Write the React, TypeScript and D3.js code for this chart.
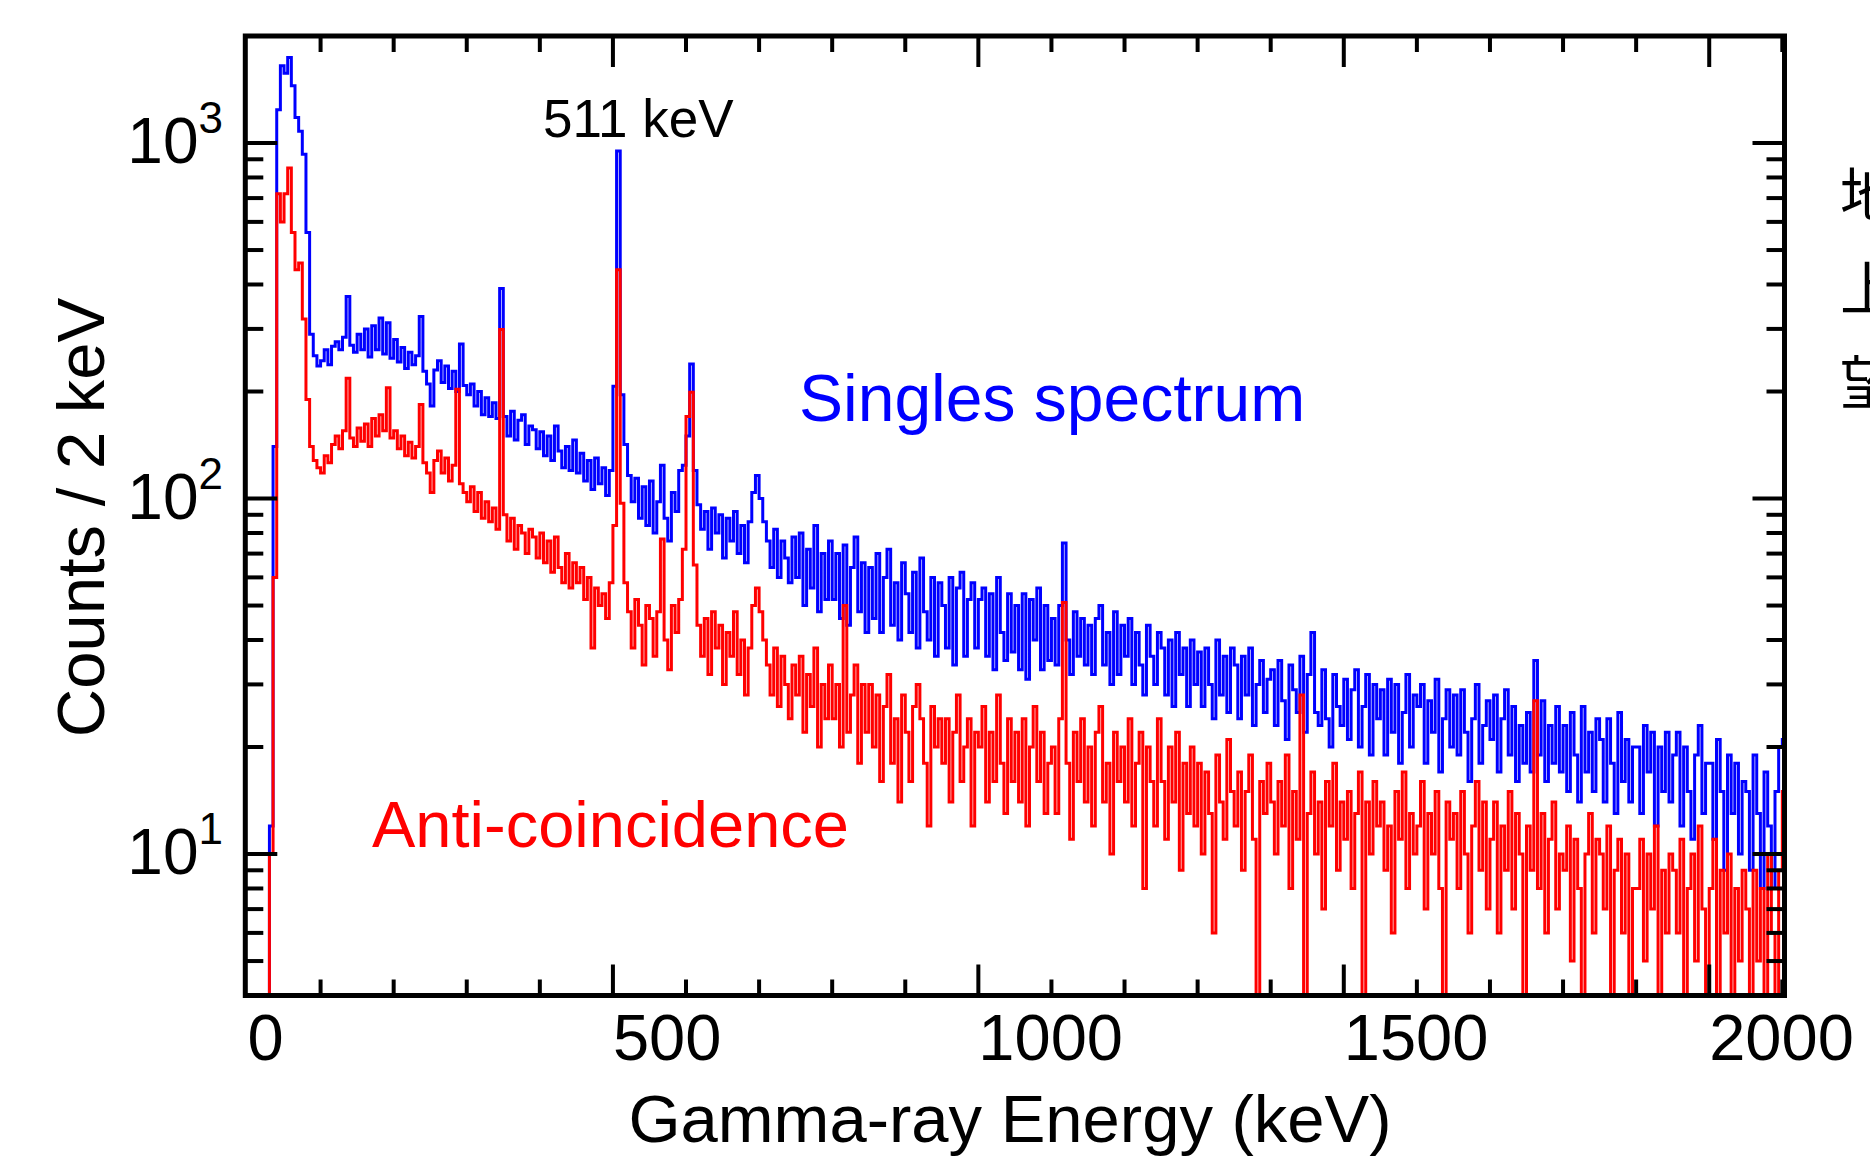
import React, { useRef, useEffect } from "react";
import * as d3 from "d3";

// bins are 5 keV wide, starting at 0 keV
const binWidth = 5;

const singles = [
  0, 0, 0, 0, 0, 0, 12, 140, 1240, 1650,
  1570, 1740, 1450, 1180, 1080, 930, 560, 290, 252, 236,
  244, 262, 238, 268, 276, 262, 284, 370, 270, 258,
  290, 262, 300, 250, 306, 262, 322, 255, 312, 248,
  280, 242, 266, 232, 258, 238, 252, 325, 228, 210,
  182, 230, 244, 212, 236, 204, 228, 200, 272, 208,
  196, 210, 182, 200, 172, 192, 170, 186, 168, 390,
  170, 150, 176, 146, 166, 172, 142, 160, 156, 138,
  154, 132, 150, 128, 160, 136, 122, 140, 120, 146,
  118, 134, 112, 128, 106, 130, 110, 122, 102, 120,
  207, 950, 196, 142, 116, 98, 114, 88, 108, 84,
  112, 80, 98, 124, 88, 76, 104, 92, 120, 124,
  150, 239, 120, 96, 82, 92, 72, 94, 80, 90,
  68, 88, 76, 92, 70, 84, 66, 86, 104, 116,
  100, 86, 76, 64, 82, 60, 76, 68, 58, 78,
  60, 80, 50, 72, 56, 84, 48, 70, 52, 76,
  52, 70, 46, 74, 44, 64, 78, 48, 66, 42,
  64, 46, 70, 42, 60, 72, 44, 58, 40, 66,
  54, 42, 62, 38, 68, 48, 40, 60, 36, 58,
  50, 38, 60, 34, 56, 62, 36, 52, 58, 38,
  52, 56, 36, 54, 33, 60, 42, 35, 54, 37,
  50, 33, 54, 31, 52, 40, 56, 33, 50, 35,
  46, 34, 50, 75, 40, 32, 48, 36, 46, 34,
  44, 32, 46, 50, 34, 42, 30, 48, 32, 44,
  36, 46, 30, 42, 34, 28, 44, 36, 30, 42,
  38, 28, 40, 26, 42, 32, 38, 26, 40, 30,
  37, 26, 38, 30, 24, 40, 28, 36, 25, 38,
  34, 24, 36, 28, 38, 23, 30, 35, 25, 31,
  33, 23, 35, 27, 21, 34, 29, 25, 36, 22,
  32, 42, 25, 23, 33, 24, 20, 32, 26, 23,
  31, 21, 29, 33, 20, 26, 32, 19, 30, 24,
  29, 19, 31, 22, 30, 18, 25, 32, 20, 28,
  26, 30, 18, 27, 22, 31, 17, 24, 29, 20,
  28, 19, 29, 22, 16, 24, 30, 18, 23, 27,
  21, 28, 17, 24, 29, 19, 26, 16, 23, 18,
  25, 17, 35, 19, 27, 16, 23, 18, 26, 17,
  23, 15, 25, 19, 14, 26, 17, 22, 15, 24,
  21, 14, 24, 18, 13, 25, 16, 21, 14, 20,
  20, 13, 23, 17, 22, 12, 20, 15, 22, 14,
  19, 22, 12, 20, 15, 11, 19, 23, 13, 18,
  18, 11, 21, 15, 9, 19, 13, 18, 10, 16,
  15, 9, 19, 13, 8, 17, 12, 8, 15, 20,
  21,
];

const antiCoincidence = [
  0, 0, 0, 0, 0, 0, 10, 60, 720, 600,
  720, 850, 560, 440, 460, 320, 190, 140, 128, 122,
  118, 132, 126, 142, 150, 138, 155, 218, 148, 140,
  158, 145, 162, 140, 168, 150, 172, 155, 205, 148,
  155, 138, 150, 132, 144, 130, 140, 184, 126, 118,
  104, 128, 136, 118, 130, 112, 124, 203, 110, 104,
  98, 108, 92, 104, 88, 98, 86, 94, 82, 299,
  90, 76, 88, 72, 84, 80, 70, 82, 78, 68,
  80, 66, 76, 62, 78, 64, 58, 70, 56, 66,
  58, 64, 52, 60, 38, 56, 50, 54, 46, 58,
  84, 440, 97, 58, 48, 38, 52, 44, 34, 50,
  46, 36, 48, 77, 40, 33, 50, 42, 52, 72,
  170, 199, 65, 44, 36, 46, 32, 48, 38, 44,
  30, 42, 36, 48, 32, 40, 28, 38, 50, 56,
  48, 40, 34, 28, 38, 26, 36, 30, 24, 34,
  28, 36, 22, 32, 26, 38, 20, 30, 24, 34,
  24, 30, 20, 50, 22, 28, 34, 18, 30, 22,
  30, 20, 28, 16, 26, 32, 18, 24, 14, 28,
  22, 16, 26, 30, 24, 18, 12, 26, 20, 24,
  18, 24, 14, 22, 28, 16, 20, 24, 12, 22,
  20, 26, 14, 22, 16, 28, 18, 13, 24, 16,
  22, 14, 24, 12, 20, 26, 16, 22, 13, 18,
  20, 13, 24, 51, 18, 11, 22, 16, 24, 14,
  20, 12, 22, 26, 14, 18, 10, 22, 16, 20,
  14, 24, 12, 18, 22, 8, 20, 16, 12, 24,
  16, 11, 20, 14, 22, 9, 18, 13, 20, 12,
  18, 10, 17, 13, 6, 19, 14, 11, 21, 15,
  12, 17, 9, 15, 19, 11, 2, 16, 13, 18,
  14, 10, 16, 12, 19, 8, 15, 11, 28, 3,
  13, 17, 10, 14, 7, 16, 12, 18, 9, 14,
  11, 15, 8, 13, 17, 3, 14, 10, 16, 12,
  14, 9, 12, 6, 15, 11, 17, 8, 13, 10,
  12, 16, 7, 13, 10, 15, 8, 3, 14, 11,
  13, 8, 15, 10, 6, 12, 16, 9, 14, 7,
  11, 14, 6, 12, 9, 15, 7, 13, 10, 3,
  12, 9, 27, 8, 13, 6, 11, 14, 7, 10,
  9, 12, 5, 11, 8, 3, 10, 13, 6, 11,
  10, 7, 12, 4, 9, 11, 6, 10, 3, 8,
  8, 11, 5, 10, 7, 12, 3, 9, 6, 10,
  9, 6, 11, 2, 8, 10, 5, 12, 7, 3,
  8, 11, 4, 9, 6, 10, 2, 8, 5, 9,
  7, 3, 9, 5, 8, 2, 10, 6, 3, 9,
  15,
];

const xTickLabels = [0, 500, 1000, 1500, 2000];
const yMajorTicks = [10, 100, 1000];
const yExponents = ["1", "2", "3"];
const sideText = ["地", "上", "望"];

const font = "'Liberation Sans', Arial, Helvetica, sans-serif";

const App = () => {
  const svgRef = useRef<SVGSVGElement>(null);

  useEffect(() => {
    const svg = d3.select(svgRef.current);
    svg.selectAll("*").remove();

    const frame = { left: 245.3, right: 1784.5, top: 36, bottom: 995.5 };

    const x = d3.scaleLinear().domain([-3, 2103]).range([frame.left, frame.right]);
    const y = d3
      .scaleLog()
      .domain([4, 2000])
      .range([frame.bottom, frame.top])
      .clamp(true);

    svg
      .append("defs")
      .append("clipPath")
      .attr("id", "plot-clip")
      .append("rect")
      .attr("x", frame.left)
      .attr("y", frame.top)
      .attr("width", frame.right - frame.left)
      .attr("height", frame.bottom - frame.top);

    const toSteps = (vals: number[]) => {
      const pts: [number, number][] = vals.map((v, i) => [i * binWidth, v]);
      pts.push([vals.length * binWidth, vals[vals.length - 1]]);
      return pts;
    };

    const line = d3
      .line<[number, number]>()
      .x((d) => x(d[0]))
      .y((d) => y(Math.max(d[1], 1)))
      .curve(d3.curveStepAfter);

    const plot = svg.append("g").attr("clip-path", "url(#plot-clip)");

    plot
      .append("path")
      .attr("d", line(toSteps(singles)))
      .attr("fill", "none")
      .attr("stroke", "#0000ff")
      .attr("stroke-width", 3);

    plot
      .append("path")
      .attr("d", line(toSteps(antiCoincidence)))
      .attr("fill", "none")
      .attr("stroke", "#ff0000")
      .attr("stroke-width", 3);

    // ticks, all pointing inwards
    const ticks = svg.append("g").attr("stroke", "#000").attr("stroke-width", 4);

    const xTicks = d3.range(100, 2101, 100);
    xTicks.forEach((t) => {
      const len = t % 500 === 0 ? 31 : 16;
      ticks
        .append("line")
        .attr("x1", x(t))
        .attr("x2", x(t))
        .attr("y1", frame.bottom)
        .attr("y2", frame.bottom - len);
      ticks
        .append("line")
        .attr("x1", x(t))
        .attr("x2", x(t))
        .attr("y1", frame.top)
        .attr("y2", frame.top + len);
    });

    const yMinor: number[] = [];
    [1, 10, 100, 1000].forEach((dec) => {
      d3.range(2, 10).forEach((k) => {
        const v = dec * k;
        if (v > 4 && v < 2000) yMinor.push(v);
      });
    });
    const yTicks = [
      ...yMajorTicks.map((v) => ({ v, len: 32 })),
      ...yMinor.map((v) => ({ v, len: 18 })),
    ];
    yTicks.forEach((t) => {
      ticks
        .append("line")
        .attr("x1", frame.left)
        .attr("x2", frame.left + t.len)
        .attr("y1", y(t.v))
        .attr("y2", y(t.v));
      ticks
        .append("line")
        .attr("x1", frame.right)
        .attr("x2", frame.right - t.len)
        .attr("y1", y(t.v))
        .attr("y2", y(t.v));
    });

    svg
      .append("rect")
      .attr("x", frame.left)
      .attr("y", frame.top)
      .attr("width", frame.right - frame.left)
      .attr("height", frame.bottom - frame.top)
      .attr("fill", "none")
      .attr("stroke", "#000")
      .attr("stroke-width", 5);

    // x tick labels start at their tick
    svg
      .append("g")
      .selectAll("text")
      .data(xTickLabels)
      .enter()
      .append("text")
      .attr("x", (d) => x(d))
      .attr("y", 1060)
      .attr("font-size", 65)
      .attr("font-family", font)
      .attr("text-anchor", "start")
      .text((d) => String(d));

    // y tick labels as powers of ten
    const yLab = svg
      .append("g")
      .selectAll("text")
      .data(yMajorTicks)
      .enter()
      .append("text")
      .attr("x", 223)
      .attr("y", (d) => y(d) + 20)
      .attr("font-size", 64)
      .attr("font-family", font)
      .attr("text-anchor", "end");
    yLab.append("tspan").text("10");
    yLab
      .append("tspan")
      .attr("font-size", 44)
      .attr("dy", -30)
      .text((d, i) => yExponents[i]);

    svg
      .append("text")
      .attr("x", 1010)
      .attr("y", 1142)
      .attr("font-size", 67)
      .attr("font-family", font)
      .attr("text-anchor", "middle")
      .text("Gamma-ray Energy (keV)");

    svg
      .append("text")
      .attr("transform", "translate(104,517.5) rotate(-90)")
      .attr("font-size", 67)
      .attr("font-family", font)
      .attr("text-anchor", "middle")
      .text("Counts / 2 keV");

    svg
      .append("text")
      .attr("x", 799)
      .attr("y", 421)
      .attr("font-size", 66)
      .attr("font-family", font)
      .attr("fill", "#0000ff")
      .text("Singles spectrum");

    svg
      .append("text")
      .attr("x", 372)
      .attr("y", 847)
      .attr("font-size", 65)
      .attr("font-family", font)
      .attr("fill", "#ff0000")
      .text("Anti-coincidence");

    svg
      .append("text")
      .attr("x", 543)
      .attr("y", 137)
      .attr("font-size", 53)
      .attr("font-family", font)
      .text("511 keV");

    // text cut by the right page edge, as in the source figure
    svg
      .append("g")
      .selectAll("text")
      .data(sideText)
      .enter()
      .append("text")
      .attr("x", 1840)
      .attr("y", (d, i) => 216 + i * 94)
      .attr("font-size", 58)
      .attr("font-family", "'Noto Sans CJK JP', sans-serif")
      .text((d) => d);
  }, []);

  return (
    <svg
      ref={svgRef}
      width={1870}
      height={1161}
      style={{ position: "absolute", left: 0, top: 0, background: "#fff" }}
    ></svg>
  );
};

export default App;
